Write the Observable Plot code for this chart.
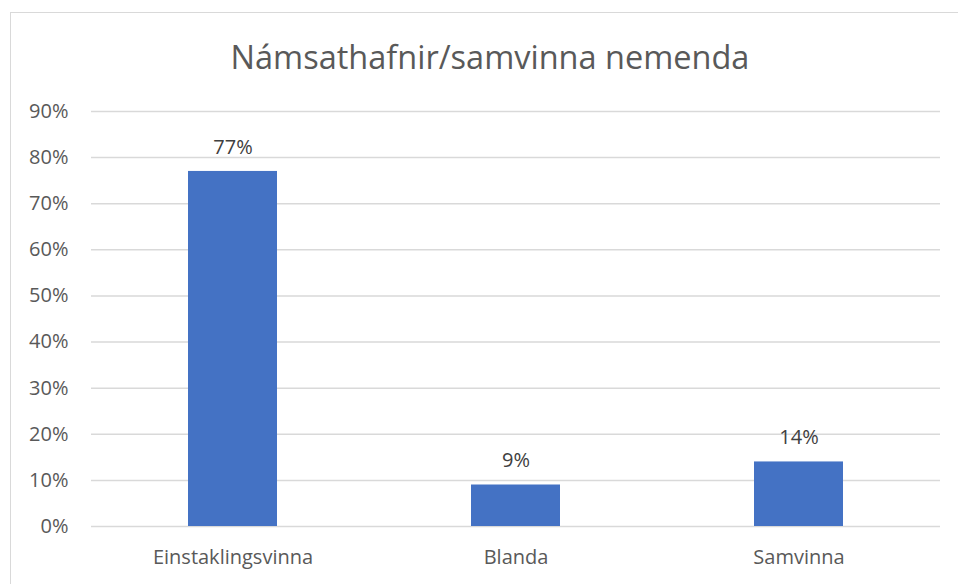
<!DOCTYPE html>
<html>
<head>
<meta charset="utf-8">
<script src="https://cdn.jsdelivr.net/npm/d3@7"></script>
<script src="https://cdn.jsdelivr.net/npm/@observablehq/plot@0.6"></script>
<style>
  html, body { margin: 0; padding: 0; background: #fff; }
  #wrap { position: relative; width: 958px; height: 584px; overflow: hidden; font-family: "Open Sans", sans-serif; }
  #frame { position: absolute; left: 10px; top: 12px; width: 1000px; height: 1000px; border: 1px solid #d9d9d9; box-sizing: border-box; }
  #title { position: absolute; left: 0; width: 980px; top: 35px; text-align: center; font-size: 32.5px; color: #595959; line-height: 44px; }
  #chart { position: absolute; left: 0; top: 0; }
</style>
</head>
<body>
<div id="wrap">
  <div id="frame"></div>
  <div id="title">Námsathafnir/samvinna nemenda</div>
  <div id="chart"></div>
</div>
<script>
const categories = ["Einstaklingsvinna", "Blanda", "Samvinna"];
const values = [0.77, 0.09, 0.14];
const valueLabels = ["77%", "9%", "14%"];
const yTicks = [0, 0.1, 0.2, 0.3, 0.4, 0.5, 0.6, 0.7, 0.8, 0.9];

const data = categories.map((c, i) => ({category: c, value: values[i], label: valueLabels[i]}));

const chart = Plot.plot({
  width: 958,
  height: 584,
  marginLeft: 91,
  marginRight: 18,
  marginTop: 111,
  marginBottom: 58,
  style: {fontFamily: "Open Sans, sans-serif", fontSize: "20px", color: "#595959", background: "transparent"},
  x: {domain: categories, padding: 0, label: null, tickSize: 0, tickPadding: 23},
  y: {domain: [0, 0.9], ticks: yTicks, tickFormat: d => Math.round(d * 100) + "%", label: null, tickSize: 0, tickPadding: 23},
  marks: [
    Plot.ruleY(yTicks, {stroke: "#d9d9d9", strokeWidth: 1.5}),
    Plot.barY(data, {x: "category", y: "value", fill: "#4472C4", insetLeft: 97, insetRight: 97}),
    Plot.text(data, {x: "category", y: "value", text: "label", dy: -24, fill: "#404040", fontSize: 20})
  ]
});
chart.style.overflow = "visible";
document.getElementById("chart").appendChild(chart);
</script>
</body>
</html>
